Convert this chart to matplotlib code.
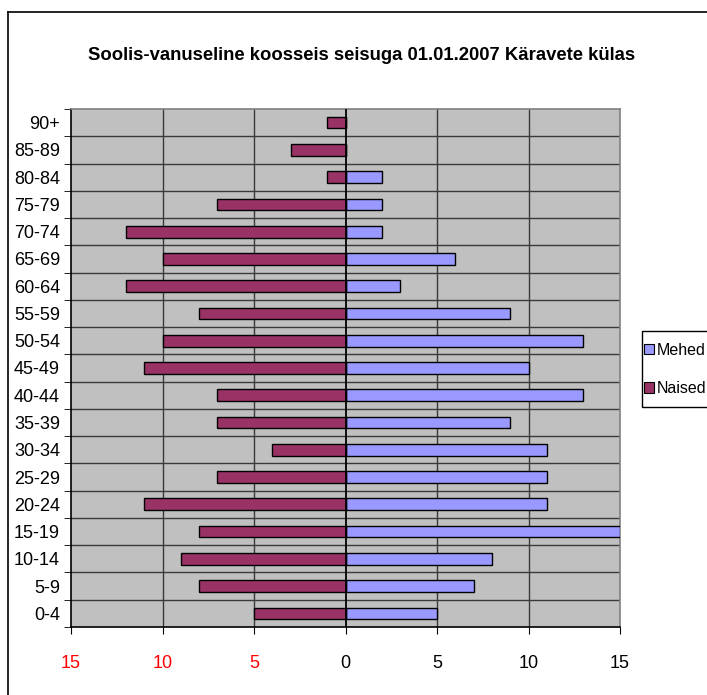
import matplotlib
matplotlib.use("Agg")
import matplotlib.pyplot as plt
from matplotlib.lines import Line2D
from matplotlib.patches import Patch, Rectangle
import numpy as np

plt.rcParams["font.family"] = ["Liberation Sans Narrow", "Liberation Sans", "DejaVu Sans"]

age_groups = ["0-4", "5-9", "10-14", "15-19", "20-24", "25-29", "30-34", "35-39",
              "40-44", "45-49", "50-54", "55-59", "60-64", "65-69", "70-74",
              "75-79", "80-84", "85-89", "90+"]
mehed = [5, 7, 8, 15, 11, 11, 11, 9, 13, 10, 13, 9, 3, 6, 2, 2, 2, 0, 0]
naised = [5, 8, 9, 8, 11, 7, 4, 7, 7, 11, 10, 8, 12, 10, 12, 7, 1, 3, 1]
x_ticks = [-15, -10, -5, 0, 5, 10, 15]

MEHED_C = "#9999FF"
NAISED_C = "#993366"
PLOT_BG = "#C0C0C0"

W, H = 707, 695
fig = plt.figure(figsize=(W / 100, H / 100), dpi=100)

# outer chart frame (only left and top edges visible in the crop)
fig.add_artist(Line2D([8 / W, 8 / W], [0, 1 - 12 / H], color="black", lw=1.2,
                      transform=fig.transFigure))
fig.add_artist(Line2D([8 / W, 1], [1 - 12 / H, 1 - 12 / H], color="black", lw=1.2,
                      transform=fig.transFigure))

ax = fig.add_axes([71 / W, 1 - 627 / H, (620 - 71) / W, (627 - 109) / H])
ax.set_facecolor(PLOT_BG)

y = np.arange(len(age_groups))
ax.barh(y, mehed, height=0.43, color=MEHED_C, edgecolor="black", lw=1, zorder=3)
ax.barh(y, [-v for v in naised], height=0.43, color=NAISED_C, edgecolor="black", lw=1, zorder=3)

ax.set_xlim(-15, 15)
ax.set_ylim(-0.5, len(age_groups) - 0.5)

ax.set_xticks(x_ticks)
ax.set_xticklabels([str(abs(v)) for v in x_ticks])
for lbl, v in zip(ax.get_xticklabels(), x_ticks):
    lbl.set_color("red" if v < 0 else "black")
ax.tick_params(axis="x", direction="out", length=5, pad=15, labelsize=13)

ax.set_yticks(y)
ax.set_yticklabels(age_groups)
ax.set_yticks(np.arange(-0.5, len(age_groups), 1), minor=True)
ax.tick_params(axis="y", which="major", length=0, pad=8, labelsize=13)
ax.tick_params(axis="y", which="minor", direction="out", length=5)

for v in x_ticks[1:-1]:
    if v != 0:
        ax.axvline(v, color="#3a3a3a", lw=1, zorder=1)
for b in np.arange(0.5, len(age_groups) - 1, 1):
    ax.axhline(b, color="#3a3a3a", lw=1, zorder=1)
ax.axvline(0, color="black", lw=1.3, zorder=4)

ax.spines["left"].set_color("black")
ax.spines["bottom"].set_color("black")
ax.spines["top"].set_color("#808080")
ax.spines["right"].set_color("#808080")
for s in ax.spines.values():
    s.set_linewidth(1.2)

fig.text(362 / W, 1 - 55 / H, "Soolis-vanuseline koosseis seisuga 01.01.2007 Käravete külas",
         ha="center", va="center", fontsize=13.3, fontweight="bold")

# legend frame runs past the right edge of the image, as in the reference
fig.add_artist(Rectangle((642 / W, 1 - 407 / H), 100 / W, 76 / H, transform=fig.transFigure,
                         facecolor="white", edgecolor="black", lw=1))
handles = [Patch(facecolor=MEHED_C, edgecolor="black", lw=0.8),
           Patch(facecolor=NAISED_C, edgecolor="black", lw=0.8)]
fig.legend(handles, ["Mehed", "Naised"], loc="upper left",
           bbox_to_anchor=(644 / W, 1 - 343 / H), frameon=False,
           fontsize=11.5, handlelength=0.6, handleheight=0.6,
           handletextpad=0.2, borderpad=0, labelspacing=1.45, borderaxespad=0)

fig.savefig("out.png", dpi=100)
